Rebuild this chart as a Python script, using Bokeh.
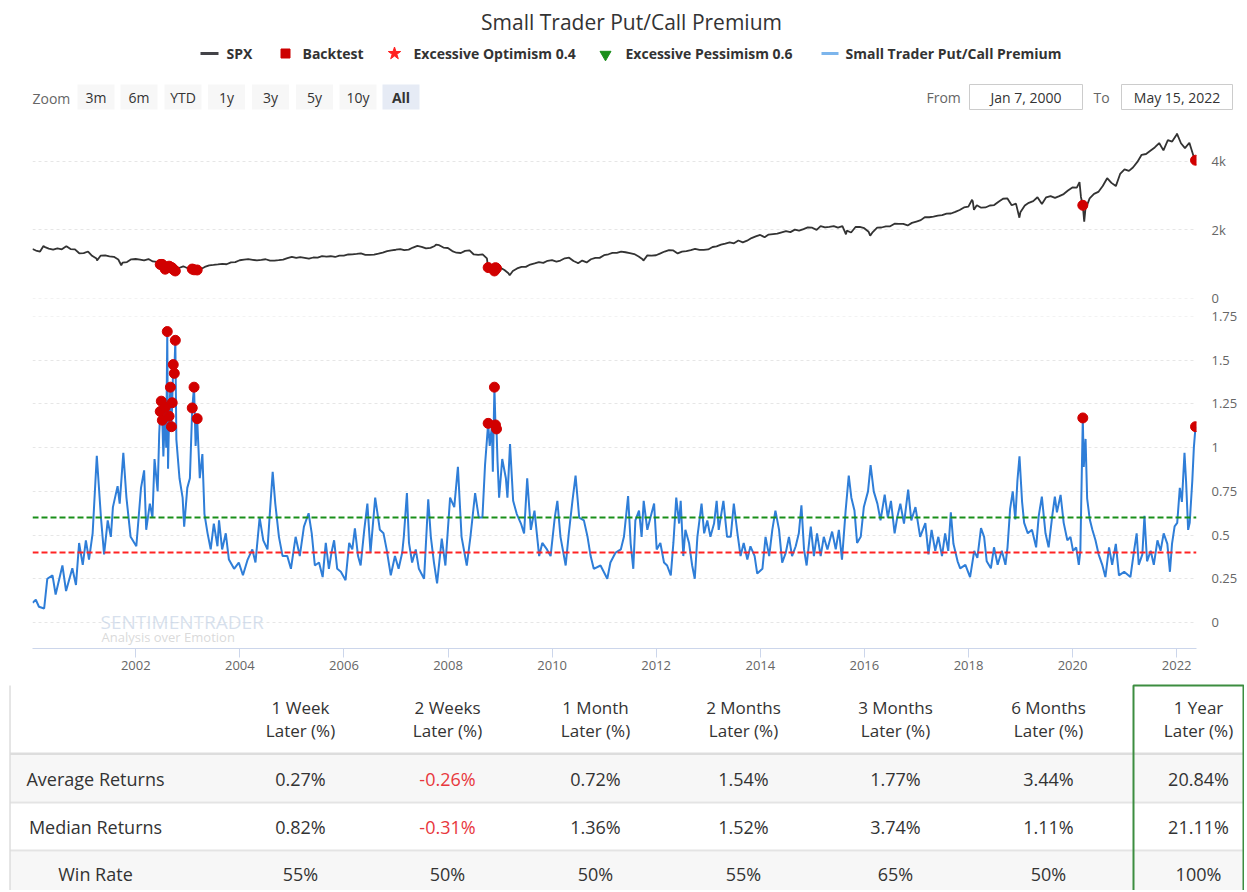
import math
from datetime import datetime, timedelta
from bokeh.plotting import figure
from bokeh.layouts import column
from bokeh.models import (Range1d, FixedTicker, DatetimeTickFormatter,
                          NumeralTickFormatter, CustomJSTickFormatter, Span, Label)
from bokeh.core.properties import value
from bokeh.embed import file_html
from bokeh.resources import INLINE

FONT = "Open Sans"

# ------------------------------------------------------------------ data
chart_title = "Small Trader Put/Call Premium"
legend_labels = ["SPX", "Backtest", "Excessive Optimism 0.4",
                 "Excessive Pessimism 0.6", "Small Trader Put/Call Premium"]
optimism_level = 0.4
pessimism_level = 0.6

# SPX month-end closes, Jan 2000 .. Apr 2022
spx_month_end = [
    1394, 1366, 1499, 1452, 1421, 1455, 1431, 1518, 1437, 1429, 1315, 1320,
    1366, 1240, 1160, 1249, 1256, 1224, 1211, 1134, 1041, 1060, 1139, 1148,
    1130, 1107, 1147, 1077, 1067, 990, 912, 916, 815, 886, 936, 880,
    856, 841, 848, 917, 964, 975, 990, 1008, 996, 1051, 1058, 1112,
    1131, 1145, 1126, 1107, 1121, 1141, 1102, 1104, 1115, 1130, 1174, 1212,
    1181, 1204, 1181, 1157, 1192, 1191, 1234, 1220, 1229, 1207, 1249, 1248,
    1280, 1281, 1295, 1311, 1270, 1270, 1277, 1304, 1336, 1378, 1401, 1418,
    1438, 1407, 1421, 1482, 1531, 1503, 1455, 1474, 1527, 1549, 1481, 1468,
    1379, 1331, 1323, 1386, 1400, 1280, 1267, 1283, 1166, 969, 896, 903,
    826, 735, 798, 873, 919, 919, 987, 1021, 1057, 1036, 1096, 1115,
    1074, 1104, 1169, 1187, 1089, 1031, 1102, 1049, 1141, 1183, 1181, 1258,
    1286, 1327, 1326, 1364, 1345, 1321, 1292, 1219, 1131, 1253, 1247, 1258,
    1312, 1366, 1408, 1398, 1310, 1362, 1379, 1407, 1441, 1412, 1416, 1426,
    1498, 1515, 1569, 1598, 1631, 1606, 1686, 1633, 1682, 1757, 1806, 1848,
    1783, 1859, 1872, 1884, 1924, 1960, 1931, 2003, 1972, 2018, 2068, 2059,
    1995, 2105, 2068, 2086, 2107, 2063, 2104, 1972, 1920, 2079, 2080, 2044,
    1940, 1932, 2060, 2065, 2097, 2099, 2174, 2171, 2168, 2126, 2199, 2239,
    2279, 2364, 2363, 2384, 2412, 2423, 2470, 2472, 2519, 2575, 2648, 2674,
    2824, 2714, 2641, 2648, 2705, 2718, 2816, 2902, 2914, 2712, 2760, 2507,
    2704, 2784, 2834, 2946, 2752, 2942, 2980, 2926, 2977, 3038, 3141, 3231,
    3226, 2954, 2585, 2912, 3044, 3100, 3271, 3500, 3363, 3270, 3622, 3756,
    3714, 3811, 3973, 4181, 4204, 4298, 4395, 4523, 4308, 4605, 4567, 4766,
    4516, 4374, 4530, 4132,
]
# a few intra-month SPX readings (peaks / troughs)
spx_extra_dates = ["2000-01-07", "2000-03-24", "2000-09-01", "2001-04-04",
                   "2001-09-21", "2002-07-23", "2002-10-09", "2003-03-11",
                   "2007-10-09", "2008-11-20", "2009-03-09", "2010-07-02",
                   "2011-10-03", "2015-08-25", "2016-02-11", "2018-01-26",
                   "2018-02-08", "2018-12-24", "2020-02-19", "2020-03-23",
                   "2022-01-03"]
spx_extra_values = [1441, 1527, 1520, 1104,
                    966, 797, 777, 800,
                    1565, 752, 677, 1022,
                    1099, 1868, 1829, 2873,
                    2581, 2351, 3386, 2237,
                    4797]

# Small Trader Put/Call Premium (decimal year, value)
prem_year = [
    2000.02, 2000.08, 2000.14, 2000.24, 2000.30, 2000.40, 2000.46, 2000.59, 2000.66, 2000.78,
    2000.85, 2000.91, 2000.98, 2001.04, 2001.10, 2001.17, 2001.25, 2001.33, 2001.39, 2001.46,
    2001.52, 2001.56, 2001.65, 2001.69, 2001.76, 2001.82, 2001.90, 2002.01, 2002.10, 2002.16,
    2002.20, 2002.27, 2002.32, 2002.36, 2002.42, 2002.45, 2002.53, 2002.585, 2002.62, 2002.78,
    2002.84, 2002.90, 2002.93, 2002.99, 2003.04, 2003.15, 2003.23, 2003.28, 2003.32, 2003.38,
    2003.44, 2003.50, 2003.57, 2003.60, 2003.66, 2003.73, 2003.79, 2003.89, 2003.98, 2004.06,
    2004.15, 2004.24, 2004.30, 2004.38, 2004.45, 2004.53, 2004.57, 2004.63, 2004.68, 2004.75,
    2004.82, 2004.91, 2004.98, 2005.07, 2005.15, 2005.23, 2005.32, 2005.38, 2005.44, 2005.52,
    2005.59, 2005.65, 2005.71, 2005.76, 2005.81, 2005.87, 2005.94, 2006.03, 2006.10, 2006.16,
    2006.21, 2006.27, 2006.32, 2006.39, 2006.45, 2006.51, 2006.60, 2006.69, 2006.76, 2006.82,
    2006.90, 2006.98, 2007.05, 2007.12, 2007.15, 2007.21, 2007.25, 2007.31, 2007.38, 2007.44,
    2007.54, 2007.62, 2007.67, 2007.73, 2007.79, 2007.88, 2007.95, 2008.04, 2008.12, 2008.19,
    2008.26, 2008.36, 2008.43, 2008.52, 2008.59, 2008.66, 2008.71, 2008.80, 2008.84, 2008.86,
    2008.95, 2008.98, 2009.04, 2009.11, 2009.14, 2009.19, 2009.25, 2009.32, 2009.40, 2009.46,
    2009.52, 2009.59, 2009.66, 2009.75, 2009.81, 2009.90, 2009.97, 2010.05, 2010.10, 2010.16,
    2010.26, 2010.32, 2010.39, 2010.45, 2010.52, 2010.61, 2010.68, 2010.74, 2010.80, 2010.93,
    2011.06, 2011.12, 2011.22, 2011.32, 2011.38, 2011.46, 2011.51, 2011.56, 2011.60, 2011.67,
    2011.72, 2011.76, 2011.83, 2011.89, 2011.96, 2012.01, 2012.08, 2012.15, 2012.21, 2012.28,
    2012.33, 2012.385, 2012.44, 2012.47, 2012.52, 2012.56, 2012.63, 2012.69, 2012.74, 2012.79,
    2012.87, 2012.92, 2012.98, 2013.04, 2013.11, 2013.16, 2013.20, 2013.29, 2013.36, 2013.43,
    2013.49, 2013.56, 2013.62, 2013.68, 2013.75, 2013.81, 2013.89, 2013.94, 2014.04, 2014.10,
    2014.17, 2014.23, 2014.29, 2014.36, 2014.42, 2014.49, 2014.55, 2014.61, 2014.68, 2014.74,
    2014.79, 2014.84, 2014.89, 2014.97, 2015.03, 2015.09, 2015.16, 2015.22, 2015.29, 2015.38,
    2015.45, 2015.51, 2015.57, 2015.64, 2015.70, 2015.75, 2015.81, 2015.86, 2015.93, 2015.99,
    2016.07, 2016.12, 2016.18, 2016.25, 2016.31, 2016.39, 2016.45, 2016.51, 2016.58, 2016.63,
    2016.69, 2016.76, 2016.84, 2016.90, 2016.98, 2017.07, 2017.17, 2017.23, 2017.29, 2017.36,
    2017.42, 2017.49, 2017.55, 2017.61, 2017.66, 2017.71, 2017.79, 2017.84, 2017.94, 2018.03,
    2018.11, 2018.17, 2018.24, 2018.30, 2018.35, 2018.43, 2018.49, 2018.56, 2018.64, 2018.71,
    2018.75, 2018.80, 2018.85, 2018.90, 2018.94, 2018.98, 2019.03, 2019.07, 2019.14, 2019.22,
    2019.30, 2019.35, 2019.41, 2019.48, 2019.54, 2019.61, 2019.66, 2019.70, 2019.77, 2019.83,
    2019.90, 2019.96, 2020.01, 2020.07, 2020.12, 2020.15, 2020.215, 2020.25, 2020.28, 2020.33,
    2020.38, 2020.44, 2020.50, 2020.57, 2020.63, 2020.70, 2020.76, 2020.83, 2020.89, 2020.99,
    2021.11, 2021.18, 2021.23, 2021.27, 2021.34, 2021.38, 2021.43, 2021.50, 2021.56, 2021.63,
    2021.69, 2021.75, 2021.82, 2021.87, 2021.91, 2021.96, 2022.01, 2022.06, 2022.10, 2022.15,
    2022.18, 2022.22, 2022.25, 2022.30, 2022.33,
]
prem_value = [
    0.113, 0.13, 0.09, 0.08, 0.25, 0.27, 0.16, 0.326, 0.18, 0.31,
    0.215, 0.455, 0.33, 0.47, 0.36, 0.51, 0.954, 0.60, 0.39, 0.584,
    0.49, 0.66, 0.78, 0.68, 0.97, 0.714, 0.49, 0.436, 0.77, 0.87,
    0.53, 0.68, 0.60, 0.935, 0.75, 1.08, 0.95, 1.0, 0.88, 1.046,
    0.825, 0.714, 0.548, 0.77, 0.825, 1.01, 0.825, 0.963, 0.62, 0.51,
    0.418, 0.566, 0.436, 0.584, 0.418, 0.51, 0.36, 0.307, 0.343, 0.27,
    0.36, 0.418, 0.343, 0.60, 0.47, 0.418, 0.60, 0.862, 0.68, 0.49,
    0.38, 0.38, 0.307, 0.49, 0.38, 0.548, 0.625, 0.51, 0.326, 0.343,
    0.26, 0.455, 0.307, 0.40, 0.47, 0.307, 0.29, 0.242, 0.455, 0.418,
    0.538, 0.38, 0.326, 0.53, 0.68, 0.40, 0.714, 0.53, 0.51, 0.418,
    0.27, 0.38, 0.307, 0.40, 0.49, 0.74, 0.455, 0.343, 0.418, 0.307,
    0.25, 0.705, 0.49, 0.343, 0.224, 0.48, 0.326, 0.714, 0.66, 0.89,
    0.49, 0.326, 0.49, 0.74, 0.60, 0.60, 0.90, 1.01, 1.12, 0.862,
    0.92, 0.714, 0.935, 0.825, 0.714, 1.02, 0.696, 0.62, 0.566, 0.51,
    0.825, 0.53, 0.64, 0.38, 0.455, 0.418, 0.38, 0.60, 0.696, 0.49,
    0.326, 0.51, 0.696, 0.84, 0.60, 0.584, 0.49, 0.38, 0.307, 0.326,
    0.25, 0.343, 0.40, 0.418, 0.49, 0.723, 0.45, 0.307, 0.584, 0.64,
    0.49, 0.696, 0.53, 0.60, 0.68, 0.418, 0.455, 0.343, 0.326, 0.27,
    0.455, 0.714, 0.566, 0.696, 0.38, 0.53, 0.455, 0.326, 0.25, 0.49,
    0.68, 0.51, 0.584, 0.49, 0.566, 0.696, 0.53, 0.696, 0.49, 0.49,
    0.68, 0.51, 0.38, 0.455, 0.36, 0.436, 0.38, 0.28, 0.307, 0.49,
    0.38, 0.53, 0.64, 0.53, 0.343, 0.40, 0.49, 0.38, 0.436, 0.51,
    0.67, 0.418, 0.326, 0.548, 0.38, 0.51, 0.38, 0.49, 0.418, 0.52,
    0.418, 0.53, 0.36, 0.64, 0.84, 0.714, 0.64, 0.455, 0.49, 0.66,
    0.75, 0.90, 0.75, 0.68, 0.584, 0.731, 0.60, 0.696, 0.51, 0.60,
    0.68, 0.566, 0.76, 0.584, 0.66, 0.49, 0.568, 0.39, 0.53, 0.41,
    0.49, 0.38, 0.51, 0.41, 0.63, 0.45, 0.35, 0.31, 0.33, 0.26,
    0.41, 0.37, 0.54, 0.49, 0.35, 0.31, 0.43, 0.33, 0.41, 0.33,
    0.43, 0.65, 0.75, 0.59, 0.81, 0.95, 0.69, 0.57, 0.51, 0.53,
    0.43, 0.61, 0.72, 0.51, 0.43, 0.61, 0.72, 0.63, 0.73, 0.57,
    0.47, 0.49, 0.41, 0.43, 0.33, 0.41, 0.89, 1.05, 0.71, 0.59,
    0.53, 0.47, 0.39, 0.33, 0.26, 0.43, 0.33, 0.45, 0.27, 0.29,
    0.26, 0.41, 0.51, 0.33, 0.39, 0.61, 0.35, 0.41, 0.33, 0.47,
    0.41, 0.51, 0.45, 0.29, 0.45, 0.55, 0.57, 0.77, 0.69, 0.97,
    0.81, 0.53, 0.57, 0.81, 1.0,
]

# Backtest signal weeks (decimal year), premium value and SPX close
bt_year = [2002.47, 2002.49, 2002.51, 2002.565, 2002.605, 2002.64, 2002.665,
           2002.685, 2002.70, 2002.72, 2002.74, 2002.76, 2003.085, 2003.12,
           2003.18, 2008.77, 2008.89, 2008.91, 2008.93, 2020.197, 2022.362]
bt_premium = [1.207, 1.266, 1.157, 1.231, 1.664, 1.18, 1.346,
              1.12, 1.257, 1.475, 1.425, 1.614, 1.227, 1.346,
              1.166, 1.139, 1.346, 1.13, 1.107, 1.17, 1.12]
bt_spx = [989, 990, 989, 852, 908, 940, 916,
          893, 889, 845, 827, 800, 856, 834,
          829, 899, 800, 896, 876, 2711, 4023]

year_ticks = [2002, 2004, 2006, 2008, 2010, 2012, 2014, 2016, 2018, 2020, 2022]
spx_ticks = [0, 2000, 4000]
prem_ticks = [0, 0.25, 0.5, 0.75, 1, 1.25, 1.5, 1.75]

zoom_buttons = ["3m", "6m", "YTD", "1y", "3y", "5y", "10y", "All"]
date_from = "Jan 7, 2000"
date_to = "May 15, 2022"

periods = ["1 Week", "2 Weeks", "1 Month", "2 Months", "3 Months", "6 Months", "1 Year"]
row_names = ["Average Returns", "Median Returns", "Win Rate"]
avg_returns = [0.27, -0.26, 0.72, 1.54, 1.77, 3.44, 20.84]
median_returns = [0.82, -0.31, 1.36, 1.52, 3.74, 1.11, 21.11]
win_rate = [55, 50, 50, 55, 65, 50, 100]

assert len(prem_year) == len(prem_value)
assert len(bt_year) == len(bt_premium) == len(bt_spx)


# ------------------------------------------------------------------ helpers
def dec_year(t):
    y = int(math.floor(t))
    a, b = datetime(y, 1, 1), datetime(y + 1, 1, 1)
    return a + (b - a) * (t - y)


def month_end(i):
    y, m = 2000 + i // 12, i % 12 + 1
    ny, nm = (y + 1, 1) if m == 12 else (y, m + 1)
    return datetime(ny, nm, 1) - timedelta(days=1)


def ms(dt):
    return (dt - datetime(1970, 1, 1)).total_seconds() * 1000.0


def txt(p, xs, ys, texts, size, color="#333333", align="center",
        style="normal", baseline="middle"):
    p.text(x=xs, y=ys, text=texts, text_font=value(FONT), text_font_size=size,
           text_color=color, text_align=align, text_baseline=baseline,
           text_font_style=style)


spx_pts = [(month_end(i), v) for i, v in enumerate(spx_month_end)]
spx_pts += [(datetime.strptime(d, "%Y-%m-%d"), v)
            for d, v in zip(spx_extra_dates, spx_extra_values)]
spx_pts += [(dec_year(t), v) for t, v in zip(bt_year, bt_spx)]
spx_pts.sort(key=lambda q: q[0])
spx_x = [q[0] for q in spx_pts]
spx_y = [q[1] for q in spx_pts]

prem_pts = [(dec_year(t), v) for t, v in zip(prem_year, prem_value)]
prem_pts += [(dec_year(t), v) for t, v in zip(bt_year, bt_premium)]
prem_pts.sort(key=lambda q: q[0])
prem_x = [q[0] for q in prem_pts]
prem_y = [q[1] for q in prem_pts]

bt_x = [dec_year(t) for t in bt_year]

# ------------------------------------------------------------------ header
W = 1244
HH = 116
ph = figure(width=W, height=HH, x_range=Range1d(0, W), y_range=Range1d(HH, 0),
            toolbar_location=None, output_backend="svg", min_border=0,
            x_axis_location=None, y_axis_location=None)
ph.frame_align = False
ph.grid.visible = False
ph.outline_line_color = None

txt(ph, [631], [21], [chart_title], "21px", "#333333")

# legend
ly = 53
ph.line([200, 218], [ly, ly], line_color="#434348", line_width=3)
ph.scatter([285], [ly], marker="square", size=9, color="#cc0000")
ph.scatter([394], [ly], marker="star", size=13, color="#ff2020")
ph.scatter([605], [ly + 1], marker="inverted_triangle", size=11, color="#1a8f1a")
ph.line([821, 838], [ly, ly], line_color="#7cb5ec", line_width=3)
txt(ph, [226, 302, 413, 625, 845], [ly] * 5, legend_labels, "14px",
    "#333333", align="left", style="bold")

# range selector
btn_x = [95.5, 138.5, 182.5, 226, 270, 314, 357.5, 400.5]
txt(ph, [32], [98], ["Zoom"], "14px", "#666666", align="left")
ph.rect(x=btn_x, y=[96.5] * 8, width=37, height=25,
        fill_color=["#f7f7f7"] * 7 + ["#e6ebf5"], line_color=None)
txt(ph, btn_x, [97] * 8, zoom_buttons, "14px", "#333333",
    style=["normal"] * 7 + ["bold"])

txt(ph, [926], [97], ["From"], "14px", "#666666", align="left")
ph.rect(x=[1025.5], y=[96.5], width=113, height=25, fill_color="white",
        line_color="#cccccc")
txt(ph, [1025.5], [97], [date_from], "14px", "#333333")
txt(ph, [1093], [97], ["To"], "14px", "#666666", align="left")
ph.rect(x=[1176.5], y=[96.5], width=111, height=25, fill_color="white",
        line_color="#cccccc")
txt(ph, [1176.5], [97], [date_to], "14px", "#333333")

# ------------------------------------------------------------------ charts
xr = Range1d(start=datetime(2000, 1, 7), end=datetime(2022, 5, 20))
FRAME_W = 1164
LEFT = 32
GRID = "#e6e6e6"


def style_right_axis(ax, ticks, fmt):
    ax.ticker = FixedTicker(ticks=ticks)
    ax.formatter = fmt
    ax.axis_line_color = None
    ax.major_tick_line_color = None
    ax.minor_tick_line_color = None
    ax.major_label_text_font = FONT
    ax.major_label_text_font_size = "13px"
    ax.major_label_text_color = "#666666"
    ax.major_label_standoff = 9


# SPX pane
p1 = figure(frame_width=FRAME_W, frame_height=172, x_range=xr,
            y_range=Range1d(-1, 5004), x_axis_type="datetime",
            x_axis_location=None, y_axis_location="right",
            toolbar_location=None, output_backend="svg",
            min_border_left=LEFT, min_border_right=0, min_border_top=10,
            min_border_bottom=9)
p1.outline_line_color = None
style_right_axis(p1.yaxis[0], spx_ticks, NumeralTickFormatter(format="0a"))
p1.ygrid.ticker = FixedTicker(ticks=spx_ticks)
p1.ygrid.grid_line_color = GRID
p1.ygrid.grid_line_dash = "3 3"
p1.xgrid.visible = False
p1.line(spx_x, spx_y, line_color="#333333", line_width=1.8)
p1.scatter(bt_x, bt_spx, size=10, color="#d10000")

# Premium pane
p2 = figure(frame_width=FRAME_W, frame_height=332, x_range=xr,
            y_range=Range1d(-0.1487, 1.7502), x_axis_type="datetime",
            y_axis_location="right", toolbar_location=None,
            output_backend="svg", min_border_left=LEFT, min_border_right=0,
            min_border_top=9, min_border_bottom=32)
p2.outline_line_color = None
style_right_axis(p2.yaxis[0], prem_ticks,
                 CustomJSTickFormatter(code="return tick.toString();"))
p2.ygrid.ticker = FixedTicker(ticks=prem_ticks)
p2.ygrid.grid_line_color = GRID
p2.ygrid.grid_line_dash = "3 3"
p2.xgrid.visible = False

xa = p2.xaxis[0]
xa.ticker = FixedTicker(ticks=[ms(datetime(y, 1, 1)) for y in year_ticks])
xa.formatter = DatetimeTickFormatter(years="%Y", months="%Y", days="%Y",
                                     hours="%Y", minutes="%Y")
xa.axis_line_color = "#ccd6eb"
xa.major_tick_line_color = "#ccd6eb"
xa.major_tick_out = 9
xa.major_tick_in = 0
xa.minor_tick_line_color = None
xa.major_label_text_font = FONT
xa.major_label_text_font_size = "13px"
xa.major_label_text_color = "#666666"
xa.major_label_standoff = 3

# watermark
p2.add_layout(Label(x=68, y=27, x_units="screen", y_units="screen",
                    text="SENTIMENTRADER", text_font=FONT,
                    text_font_size="19px", text_color="#c5d3e6",
                    text_alpha=0.7, text_baseline="alphabetic"))
p2.add_layout(Label(x=69, y=12, x_units="screen", y_units="screen",
                    text="Analysis over Emotion", text_font=FONT,
                    text_font_size="13px", text_color="#d0d0d0",
                    text_alpha=0.8, text_baseline="alphabetic"))

p2.line(prem_x, prem_y, line_color="#2f7ed8", line_width=2)
p2.add_layout(Span(location=optimism_level, dimension="width",
                   line_color="#ff2424", line_dash="6 3", line_width=2))
p2.add_layout(Span(location=pessimism_level, dimension="width",
                   line_color="#1a8f1a", line_dash="6 3", line_width=2))
p2.scatter(bt_x, bt_premium, size=10, color="#d10000")

# ------------------------------------------------------------------ table
TH = 210
pt = figure(width=W, height=TH, x_range=Range1d(0, W), y_range=Range1d(TH, 0),
            toolbar_location=None, output_backend="svg", min_border=0,
            x_axis_location=None, y_axis_location=None)
pt.frame_align = False
pt.grid.visible = False
pt.outline_line_color = None

pt.quad(left=[10, 10], right=[W, W], top=[74, 171], bottom=[121, TH + 2],
        fill_color="#f7f7f7", line_color=None)
pt.quad(left=[10], right=[W], top=[72], bottom=[74.5], fill_color="#dddddd",
        line_color=None)
pt.segment(x0=[10, 10], y0=[122, 170], x1=[W, W], y1=[122, 170],
           line_color="#e4e4e4", line_width=2)
pt.segment(x0=[9.5], y0=[5], x1=[9.5], y1=[TH], line_color="#cccccc",
           line_width=1)

col_x = [300, 447, 595, 743, 895, 1048, 1198]
txt(pt, col_x, [27] * 7, periods, "17px", "#333333")
txt(pt, col_x, [50] * 7, ["Later (%)"] * 7, "17px", "#333333")

row_y = [98, 146, 193]
txt(pt, [95] * 3, row_y, row_names, "18px", "#333333")


def pct(v):
    return f"{v:.2f}%"


def colr(v):
    return "#e8373d" if v < 0 else "#333333"


txt(pt, col_x, [row_y[0]] * 7, [pct(v) for v in avg_returns], "18px",
    [colr(v) for v in avg_returns])
txt(pt, col_x, [row_y[1]] * 7, [pct(v) for v in median_returns], "18px",
    [colr(v) for v in median_returns])
txt(pt, col_x, [row_y[2]] * 7, [f"{v}%" for v in win_rate], "18px", "#333333")

pt.quad(left=[1133], right=[1243], top=[5], bottom=[TH + 5], fill_color=None,
        line_color="#3c8d40", line_width=2)

layout = column(ph, p1, p2, pt, spacing=0)
open("out.html", "w").write(file_html(layout, INLINE, title=chart_title))
